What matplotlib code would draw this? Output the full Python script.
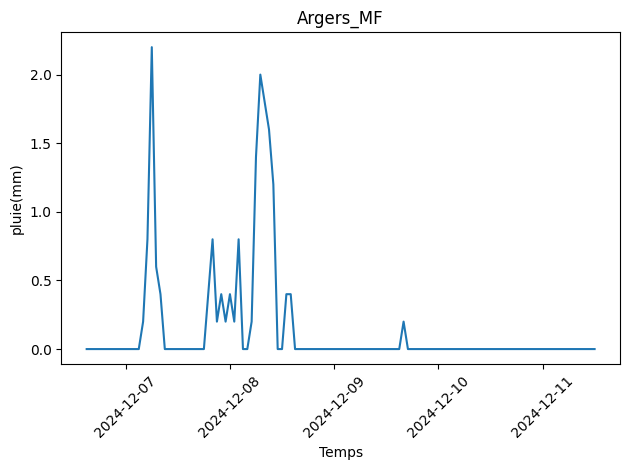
import pandas as pd
import matplotlib
matplotlib.use("Agg")
import matplotlib.pyplot as plt

station = "Argers_MF"
startTime = "2024-12-06 15:00"

# hourly rainfall (mm)
pluie = [
    0.0, 0.0, 0.0, 0.0, 0.0, 0.0, 0.0, 0.0, 0.0, 0.0, 0.0, 0.0, 0.0,
    0.2, 0.8, 2.2, 0.6, 0.4,
    0.0, 0.0, 0.0, 0.0, 0.0, 0.0, 0.0, 0.0, 0.0, 0.0,
    0.4, 0.8, 0.2, 0.4, 0.2, 0.4, 0.2, 0.8,
    0.0, 0.0, 0.2, 1.4, 2.0, 1.8, 1.6, 1.2, 0.0, 0.0, 0.4, 0.4,
    0.0, 0.0, 0.0, 0.0, 0.0, 0.0, 0.0, 0.0, 0.0, 0.0, 0.0, 0.0, 0.0,
    0.0, 0.0, 0.0, 0.0, 0.0, 0.0, 0.0, 0.0, 0.0, 0.0, 0.0, 0.0,
    0.2,
    0.0, 0.0, 0.0, 0.0, 0.0, 0.0, 0.0, 0.0, 0.0, 0.0, 0.0,
    0.0, 0.0, 0.0, 0.0, 0.0, 0.0, 0.0, 0.0, 0.0, 0.0, 0.0,
    0.0, 0.0, 0.0, 0.0, 0.0, 0.0, 0.0, 0.0, 0.0, 0.0, 0.0,
    0.0, 0.0, 0.0, 0.0, 0.0, 0.0, 0.0, 0.0, 0.0, 0.0, 0.0,
]

temps = pd.date_range(startTime, periods=len(pluie), freq="h")
df = pd.DataFrame({"Temps": temps, "pluie": pluie})

plt.figure(figsize=(6.4, 4.8), dpi=100)
plt.plot(df["Temps"], df["pluie"])
plt.title(station)
plt.xlabel("Temps")
plt.ylabel("pluie(mm)")
plt.xticks(rotation=45)
plt.tight_layout()
plt.savefig("out.png", bbox_inches="tight")
